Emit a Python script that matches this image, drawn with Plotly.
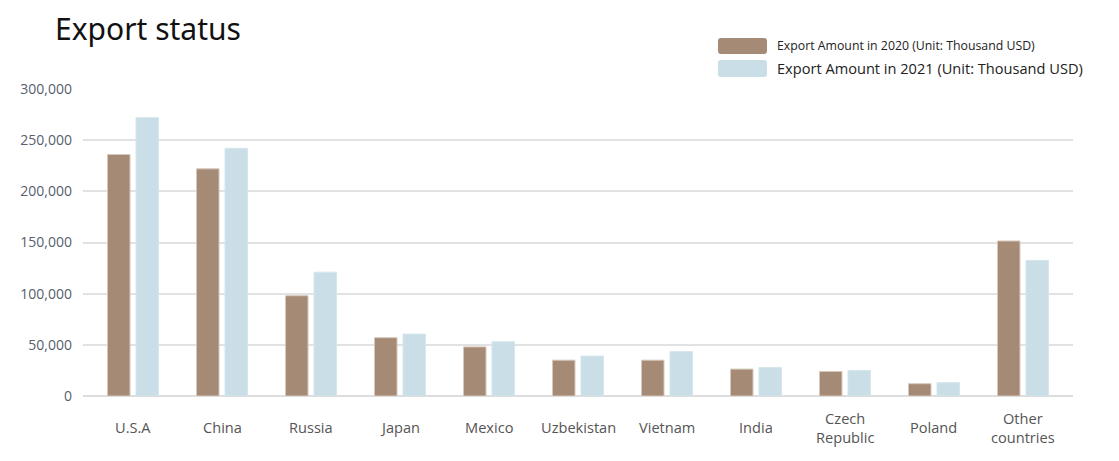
import plotly.graph_objects as go

categories = ["U.S.A", "China", "Russia", "Japan", "Mexico", "Uzbekistan",
              "Vietnam", "India", "Czech<br>Republic", "Poland", "Other<br>countries"]
exports_2020 = [236000, 222000, 98000, 57000, 48000, 35000, 35000, 26300, 24000, 12000, 151500]
exports_2021 = [272000, 242000, 121000, 60500, 53000, 39000, 43500, 27800, 25000, 13000, 132500]
series_names = ["Export Amount in 2020 (Unit: Thousand USD)",
                "Export Amount in 2021 (Unit: Thousand USD)"]
y_ticks = [0, 50000, 100000, 150000, 200000, 250000, 300000]
y_tick_labels = ["0", "50,000", "100,000", "150,000", "200,000", "250,000", "300,000"]

BROWN = "#a58a76"
BLUE = "#c9dee6"

OFF = 8  # page body margin
W, H = 1119, 461
FW, FH = W - OFF, H - OFF
L, R, T, B = 83 - OFF, W - 1073, 89 - OFF, H - 396

fig = go.Figure()
fig.add_trace(go.Bar(x=categories, y=exports_2020, name=series_names[0],
                     marker=dict(color=BROWN, line=dict(color="#d6c8bd", width=1)),
                     showlegend=False))
fig.add_trace(go.Bar(x=categories, y=exports_2021, name=series_names[1],
                     marker=dict(color=BLUE, line=dict(color="#d5e6ec", width=1)),
                     showlegend=False))

plot_w = FW - L - R
plot_h = FH - T - B


def px_x(p):
    return (p - OFF - L) / plot_w


def px_y(p):
    return (FH - B - (p - OFF)) / plot_h


def rounded_rect(x0, y0, x1, y1, r):
    # pixel coords in, paper-coord SVG path out
    def P(x, y):
        return f"{px_x(x):.5f},{px_y(y):.5f}"
    return (f"M {P(x0 + r, y0)} L {P(x1 - r, y0)} Q {P(x1, y0)} {P(x1, y0 + r)} "
            f"L {P(x1, y1 - r)} Q {P(x1, y1)} {P(x1 - r, y1)} "
            f"L {P(x0 + r, y1)} Q {P(x0, y1)} {P(x0, y1 - r)} "
            f"L {P(x0, y0 + r)} Q {P(x0, y0)} {P(x0 + r, y0)} Z")


# category labels, vertically centred like the reference
for c in categories:
    fig.add_annotation(x=c, xref="x", y=px_y(427), yref="paper",
                       text=c, showarrow=False, yanchor="middle", xanchor="center",
                       font=dict(family="Open Sans", size=14.6, color="#555555"),
                       align="center")

# custom legend
legend_rows = [(38, 54, 12.3), (60, 77, 14.6)]
colors = [BROWN, BLUE]
for (y0, y1, fs), col, name in zip(legend_rows, colors, series_names):
    fig.add_shape(type="path", xref="paper", yref="paper",
                  path=rounded_rect(718, y0, 767, y1, 3),
                  fillcolor=col, line=dict(width=0), layer="above")
    fig.add_annotation(x=px_x(775), y=px_y((y0 + y1) / 2), xref="paper", yref="paper",
                       text=name, showarrow=False, xanchor="left", yanchor="middle",
                       font=dict(family="Open Sans", size=fs, color="#222222"))

fig.update_layout(
    width=FW, height=FH,
    margin=dict(l=L, r=R, t=T, b=B),
    paper_bgcolor="white", plot_bgcolor="white",
    barmode="group", bargap=0.36, bargroupgap=0.21,
    title=dict(text="Export status", x=(55 - OFF) / FW, xanchor="left",
               y=1 - (29 - OFF) / FH, yanchor="middle",
               font=dict(family="Noto Sans", size=30, color="#111111")),
    xaxis=dict(range=[-0.562, 10.562], showticklabels=False, showgrid=False,
               showline=False, zeroline=False, fixedrange=True),
    yaxis=dict(range=[0, 300000], tickvals=y_ticks, ticktext=y_tick_labels,
               showgrid=True, gridcolor="#e2e2e2", gridwidth=2,
               zeroline=True, zerolinecolor="#dddddd", zerolinewidth=2,
               showline=False, ticklabelstandoff=10,
               tickfont=dict(family="Open Sans", size=14, color="#56606e")),
)

fig.write_html("out.html")
